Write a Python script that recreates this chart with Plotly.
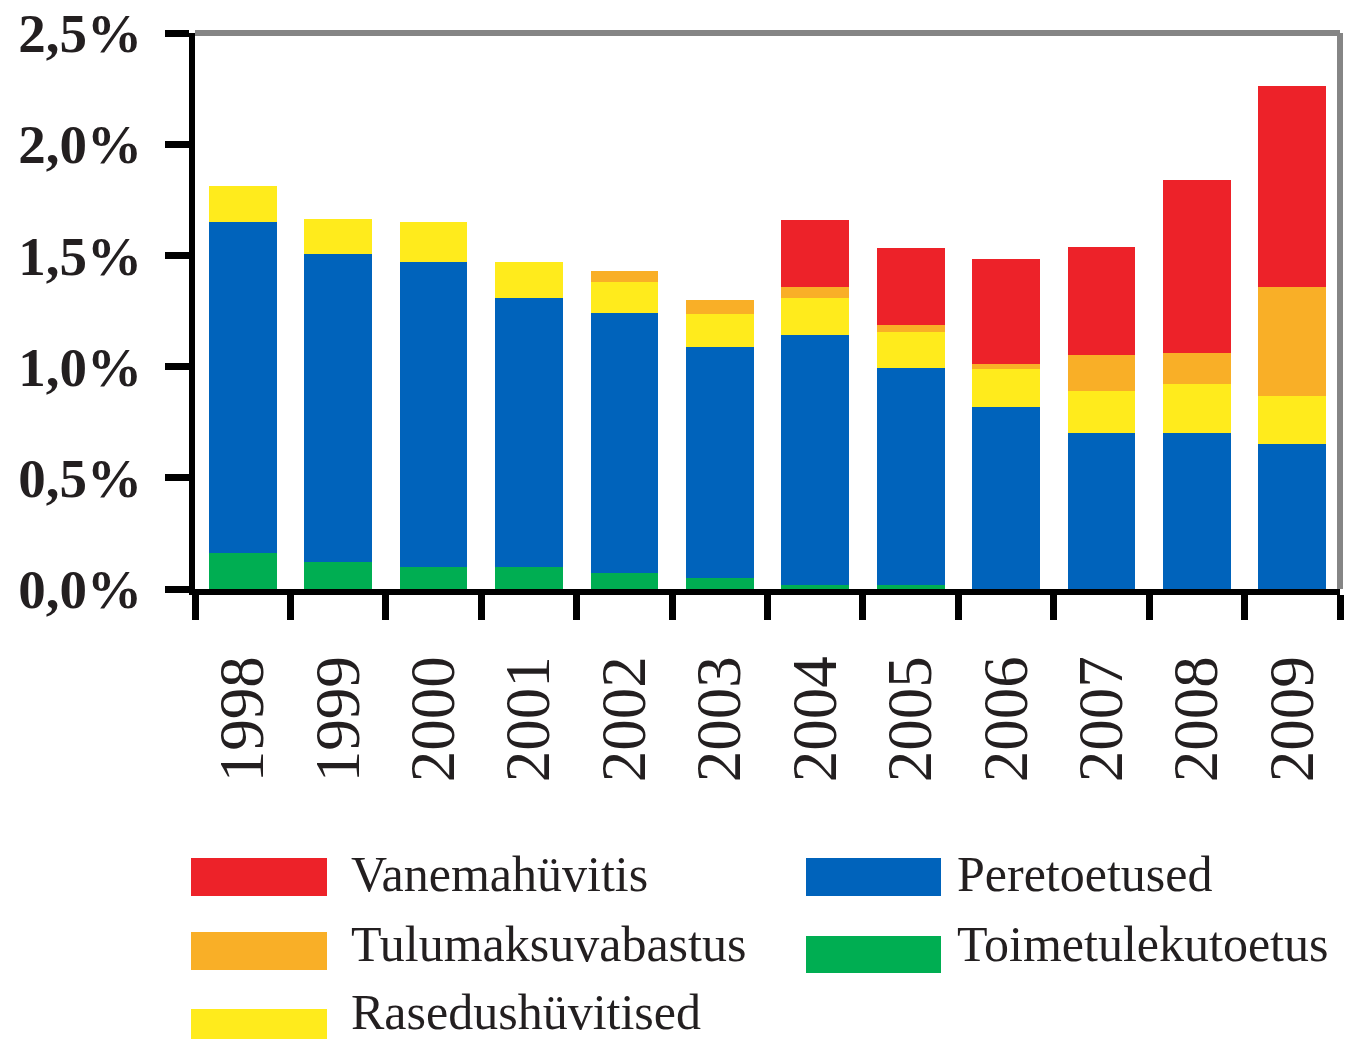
import plotly.graph_objects as go

years = ["1998", "1999", "2000", "2001", "2002", "2003",
         "2004", "2005", "2006", "2007", "2008", "2009"]

# values in % of GDP (stack order bottom -> top)
toimetulekutoetus = [0.16, 0.12, 0.10, 0.10, 0.07, 0.05, 0.02, 0.02, 0.0, 0.0, 0.0, 0.0]
peretoetused      = [1.49, 1.385, 1.37, 1.21, 1.17, 1.04, 1.12, 0.975, 0.82, 0.70, 0.70, 0.65]
rasedushuvitised  = [0.16, 0.16, 0.18, 0.16, 0.14, 0.145, 0.17, 0.16, 0.17, 0.19, 0.22, 0.22]
tulumaksuvabastus = [0.0, 0.0, 0.0, 0.0, 0.05, 0.065, 0.05, 0.03, 0.02, 0.16, 0.14, 0.49]
vanemahuvitis     = [0.0, 0.0, 0.0, 0.0, 0.0, 0.0, 0.30, 0.35, 0.475, 0.49, 0.78, 0.90]

names = ["Toimetulekutoetus", "Peretoetused", "Rasedushüvitised",
         "Tulumaksuvabastus", "Vanemahüvitis"]
series = [toimetulekutoetus, peretoetused, rasedushuvitised,
          tulumaksuvabastus, vanemahuvitis]
colors = ["#00AE52", "#0063BB", "#FFEB1C", "#F9AF27", "#ED2229"]

y_ticks = [0, 0.5, 1.0, 1.5, 2.0, 2.5]
y_ticktext = [("%.1f" % v).replace(".", ",") + "%" for v in y_ticks]

W, H = 1345, 1039
PL, PR, PT, PB = 195, 1340, 33, 589  # plot area in page pixels
L, T, R, B = PL, PT, W - PR, H - PB
pw, ph = W - L - R, H - T - B
FONT = "Liberation Serif"
TXT = "#231F20"


def px(x):
    return (x - L) / pw


def py(y):
    return (H - B - y) / ph


fig = go.Figure()
for name, vals, col in zip(names, series, colors):
    fig.add_trace(go.Bar(x=years, y=vals, name=name, marker_color=col,
                         marker_line_width=0, showlegend=False))

fig.update_layout(
    width=W, height=H, autosize=False,
    margin=dict(l=L, r=R, t=T, b=B),
    barmode="stack", bargap=0.29,
    plot_bgcolor="white", paper_bgcolor="white",
    showlegend=False,
)

fig.update_xaxes(
    type="category", automargin=False,
    showline=True, linecolor="black", linewidth=6,
    ticks="outside", tickson="boundaries", ticklen=25, tickwidth=7,
    tickcolor="black", tickangle=-90,
    tickfont=dict(family=FONT, size=63, color=TXT),
    ticklabelstandoff=36,
    showgrid=False,
)
fig.update_yaxes(
    range=[0, 2.5], tickvals=y_ticks, ticktext=y_ticktext, automargin=False,
    ticklabeloverflow="allow",
    showline=True, linecolor="black", linewidth=6,
    ticks="outside", ticklen=24, tickwidth=7, tickcolor="black",
    tickfont=dict(family=FONT, size=55, color=TXT, weight="bold"),
    ticklabelstandoff=12,
    showgrid=False, zeroline=False,
)

# gray top and right frame
fig.add_shape(type="line", xref="paper", yref="paper", x0=0, x1=1, y0=1, y1=1,
              line=dict(color="#858585", width=6))
fig.add_shape(type="line", xref="paper", yref="paper", x0=1, x1=1, y0=0, y1=1,
              line=dict(color="#858585", width=6))

# manual legend (page pixel positions)
legend_items = [
    ("Vanemahüvitis", "#ED2229", 191, 327, 858, 896, 349, 874),
    ("Tulumaksuvabastus", "#F9AF27", 191, 327, 932, 970, 349, 944),
    ("Rasedushüvitised", "#FFEB1C", 191, 327, 1009, 1047, 349, 1012),
    ("Peretoetused", "#0063BB", 806, 941, 858, 896, 955, 874),
    ("Toimetulekutoetus", "#00AE52", 806, 941, 936, 973, 955, 944),
]
for label, col, x0, x1, y0, y1, tx, ty in legend_items:
    fig.add_shape(type="rect", xref="paper", yref="paper",
                  x0=px(x0), x1=px(x1), y0=py(y1), y1=py(y0),
                  fillcolor=col, line_width=0)
    fig.add_annotation(xref="paper", yref="paper", x=px(tx), y=py(ty),
                       text=label, showarrow=False, xanchor="left", yanchor="middle",
                       font=dict(family=FONT, size=50, color=TXT))

fig.write_html(
    "out.html",
    config={"displayModeBar": False},
    post_script="document.body.style.margin='0';document.body.style.overflow='hidden';",
)
